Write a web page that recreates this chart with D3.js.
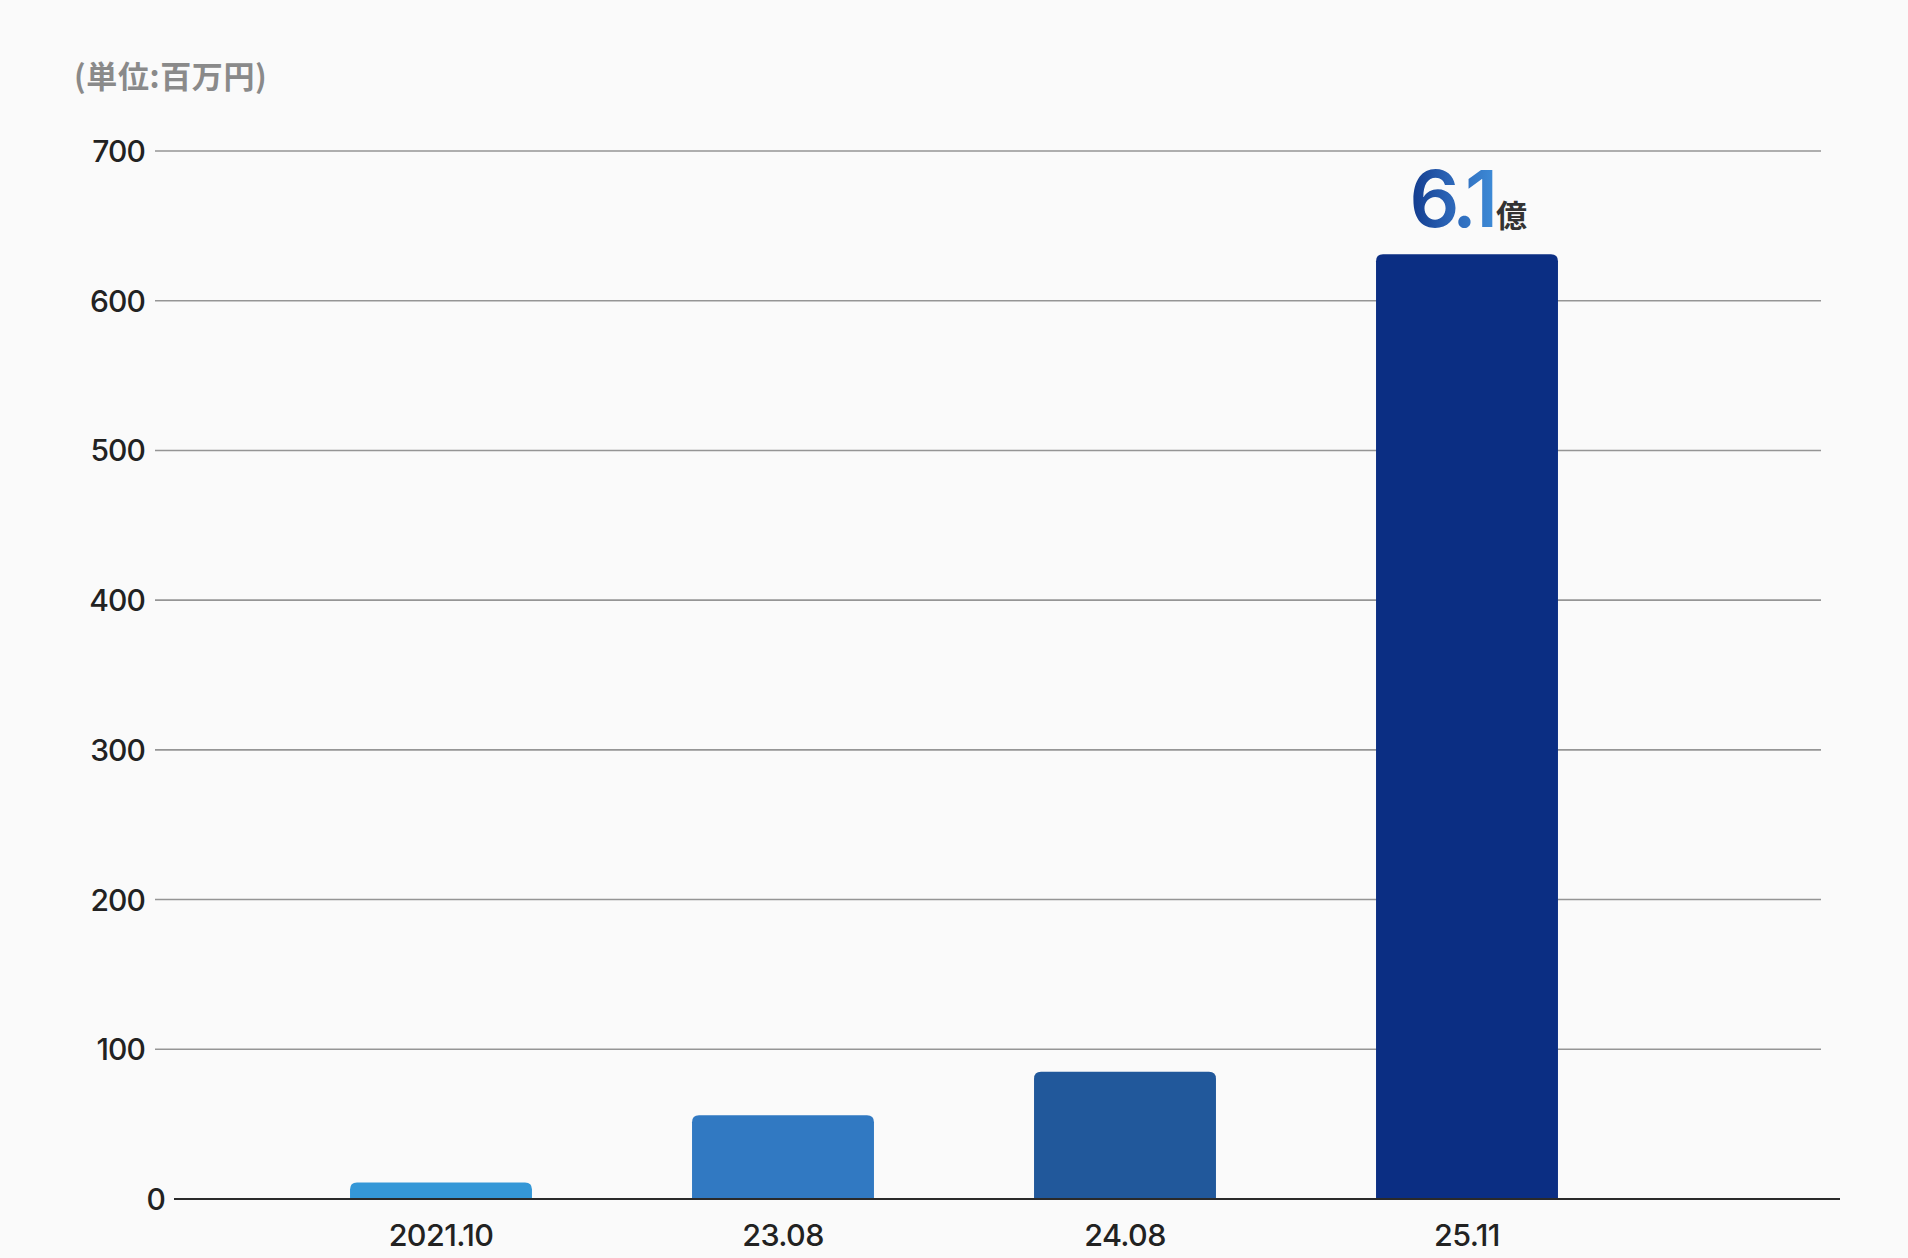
<!DOCTYPE html>
<html><head><meta charset="utf-8">
<script src="https://cdn.jsdelivr.net/npm/d3@7"></script>
<style>
html,body{margin:0;padding:0;background:#fafafa;}
svg{display:block;}
</style></head>
<body>
<svg id="chart" width="1908" height="1258"></svg>
<script>
const categories = ["2021.10", "23.08", "24.08", "25.11"];
const values = [11, 56, 85, 631];
const barColors = ["#3497d7", "#3179c2", "#21589b", "#0b2e83"];
const yTicks = [0, 100, 200, 300, 400, 500, 600, 700];
const unitLabel = "(単位:百万円)";
const highlightNumber = "6.1";
const highlightUnit = "億";

const svg = d3.select("#chart");
svg.append("rect").attr("width", 1908).attr("height", 1258).attr("fill", "#fafafa");

const y = d3.scaleLinear().domain([0, 700]).range([1199, 151]);
const x = d3.scalePoint().domain(categories).range([270, 1638]).padding(0.5);
const barW = x.step() * 0.532;

const defs = svg.append("defs");
const grad = defs.append("linearGradient").attr("id", "numGrad")
  .attr("x1", "0%").attr("x2", "100%").attr("y1", "0%").attr("y2", "0%");
grad.append("stop").attr("offset", "0%").attr("stop-color", "#123a8c");
grad.append("stop").attr("offset", "45%").attr("stop-color", "#2a62b4");
grad.append("stop").attr("offset", "100%").attr("stop-color", "#3d8ad6");

// title
svg.append("text").attr("x", 74).attr("y", 80)
  .attr("dominant-baseline", "middle")
  .attr("font-family", "'Noto Sans CJK JP', sans-serif")
  .attr("font-weight", 700).attr("font-size", 31).attr("letter-spacing", 0.6).attr("fill", "#8a8a8a")
  .text(unitLabel);

// gridlines
const grid = svg.append("g");
grid.selectAll("line").data(yTicks.filter(d => d > 0)).join("line")
  .attr("x1", 155).attr("x2", 1821)
  .attr("y1", d => y(d)).attr("y2", d => y(d))
  .attr("stroke", "#959595").attr("stroke-width", 1.6);

// y tick labels
svg.append("g").selectAll("text").data(yTicks).join("text")
  .attr("x", d => d === 0 ? 165 : 145)
  .attr("y", d => y(d))
  .attr("text-anchor", "end").attr("dominant-baseline", "central")
  .attr("font-family", "Inter, sans-serif").attr("font-weight", 500)
  .attr("font-size", 30).attr("letter-spacing", -0.9).attr("fill", "#222")
  .text(d => d);

// bars with rounded top corners
const r = 7;
function barPath(cx, top, bottom, w) {
  const x0 = cx - w / 2, x1 = cx + w / 2;
  const rr = Math.min(r, (bottom - top));
  return `M${x0},${bottom}V${top + rr}Q${x0},${top} ${x0 + rr},${top}H${x1 - rr}Q${x1},${top} ${x1},${top + rr}V${bottom}Z`;
}
svg.append("g").selectAll("path").data(categories).join("path")
  .attr("d", (c, i) => barPath(x(c), y(values[i]), y(0), barW))
  .attr("fill", (c, i) => barColors[i]);

// baseline axis
svg.append("line").attr("x1", 174).attr("x2", 1840)
  .attr("y1", y(0)).attr("y2", y(0))
  .attr("stroke", "#2a2a2a").attr("stroke-width", 2.2);

// x labels
svg.append("g").selectAll("text").data(categories).join("text")
  .attr("x", d => x(d)).attr("y", 1246)
  .attr("text-anchor", "middle")
  .attr("font-family", "Inter, sans-serif").attr("font-weight", 500)
  .attr("font-size", 30.5).attr("letter-spacing", -0.6).attr("fill", "#222")
  .text(d => d);

// highlight label
const last = categories[categories.length - 1];
const hx = x(last);
svg.append("text").attr("x", hx + 26).attr("y", 227)
  .attr("text-anchor", "end")
  .attr("font-family", "Inter, sans-serif").attr("font-weight", 600)
  .attr("font-size", 78).attr("letter-spacing", -5)
  .attr("fill", "url(#numGrad)")
  .text(highlightNumber);
svg.append("text").attr("x", hx + 29).attr("y", 227)
  .attr("font-family", "'Noto Sans CJK JP', sans-serif").attr("font-weight", 700)
  .attr("font-size", 31).attr("fill", "#333")
  .text(highlightUnit);
</script>
</body></html>
